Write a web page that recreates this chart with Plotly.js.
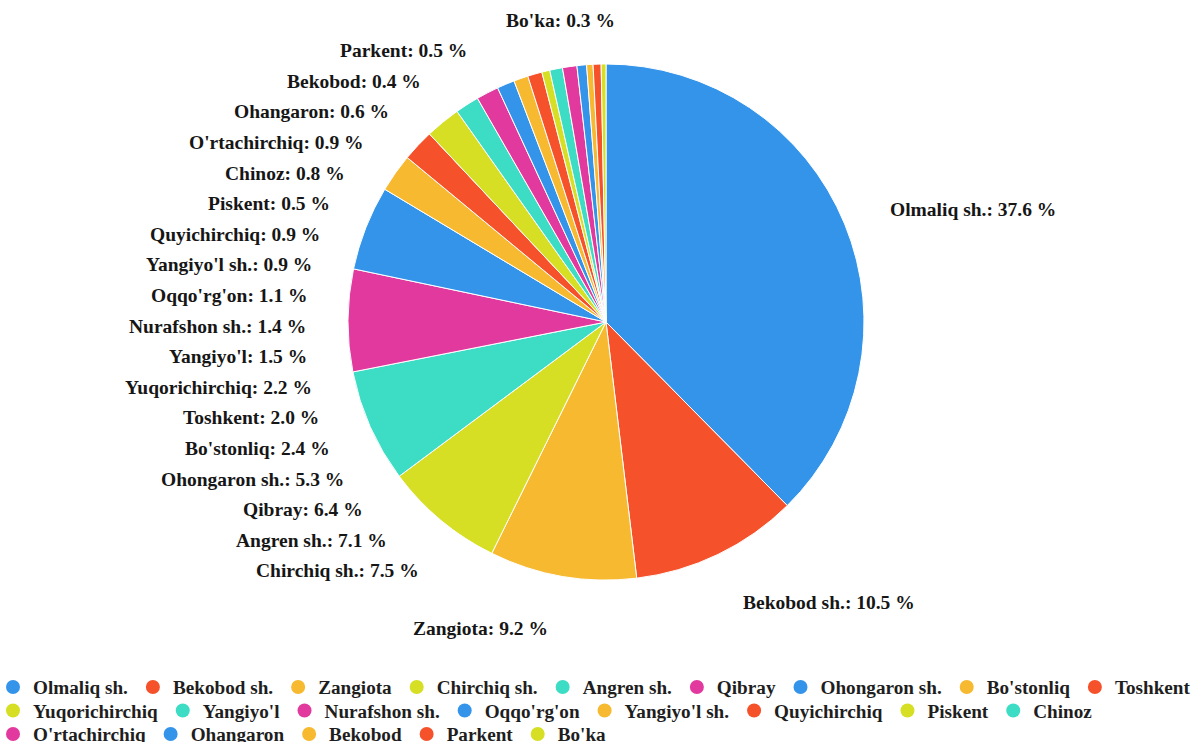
<!DOCTYPE html>
<html><head><meta charset="utf-8">
<script src="https://cdn.plot.ly/plotly-3.0.1.min.js"></script>
<style>html,body{margin:0;padding:0;background:#fff}#chart{width:1201px;height:742px}</style>
</head><body><div id="chart"></div>
<script>
// ---- data ----
const categories = ["Olmaliq sh.", "Bekobod sh.", "Zangiota", "Chirchiq sh.", "Angren sh.", "Qibray",
  "Ohongaron sh.", "Bo'stonliq", "Toshkent", "Yuqorichirchiq", "Yangiyo'l", "Nurafshon sh.",
  "Oqqo'rg'on", "Yangiyo'l sh.", "Quyichirchiq", "Piskent", "Chinoz", "O'rtachirchiq",
  "Ohangaron", "Bekobod", "Parkent", "Bo'ka"];
const shares = [37.6, 10.5, 9.2, 7.5, 7.1, 6.4, 5.3, 2.4, 2.0, 2.2, 1.5, 1.4, 1.1, 0.9, 0.9, 0.5, 0.8, 0.9, 0.6, 0.4, 0.5, 0.3];

// ---- styles ----
const BLUE = '#3394ea', RED = '#f5512b', ORANGE = '#f6b930', LIME = '#d6df24', TEAL = '#3ddcc4', PINK = '#e2399e';
const sliceColors = [BLUE, RED, ORANGE, LIME, TEAL, PINK,
  BLUE, ORANGE, RED, LIME, TEAL, PINK,
  BLUE, ORANGE, RED, LIME, TEAL, PINK,
  BLUE, ORANGE, RED, LIME];

const W = 1201, H = 742;
const CX = 606, CY = 322, R = 258;          // pie centre / radius in px
const LRX = 298, LRY = 311, LCY = CY + 5;   // label ellipse
const ROW = 30.6, TOP = 20, GAP = 6;
const FAMILY = '"Liberation Serif", "Times New Roman", serif';
const FONT = {family: FAMILY, size: 19.5, color: '#161616', weight: 'bold'};
const LEG_FONT = {family: FAMILY, size: 19.2, color: '#1e1e1e', weight: 'bold'};

// ---- label layout (derived from slice angles) ----
const total = shares.reduce((a, b) => a + b, 0);
let acc = 0;
const items = categories.map((c, i) => {
  const mid = (acc + shares[i] / 2) / total * 2 * Math.PI;
  acc += shares[i];
  const s = Math.sin(mid), co = Math.cos(mid);
  return {i, text: c + ': ' + shares[i].toFixed(1) + ' %', s, co,
          ax: CX + LRX * s, ay: CY - LRY * co};
});
const inColumn = d => d.s < 0 && -d.co < 0.9;
const column = items.filter(inColumn).sort((a, b) => a.ay - b.ay);
const others = items.filter(d => !inColumn(d));

// 1D overlap removal, then a downward sweep keeping labels below TOP
let groups = [];
column.forEach((d, k) => {
  groups.push({first: k, n: 1, top: d.ay});
  while (groups.length > 1) {
    const g2 = groups[groups.length - 1], g1 = groups[groups.length - 2];
    if (g1.top + g1.n * ROW > g2.top) {
      const n = g1.n + g2.n;
      let sum = 0;
      for (let j = 0; j < n; j++) sum += column[g1.first + j].ay - j * ROW;
      groups.splice(groups.length - 2, 2, {first: g1.first, n, top: sum / n});
    } else break;
  }
});
groups.forEach(g => { for (let j = 0; j < g.n; j++) column[g.first + j].y = g.top + j * ROW; });
column.forEach((d, k) => {
  const minY = k === 0 ? TOP : column[k - 1].y + ROW;
  if (d.y < minY) d.y = minY;
});

const annotations = [];
column.forEach(d => {
  const dy = d.y - LCY;
  const t = Math.max(0, 1 - (dy / LRY) * (dy / LRY));
  let xr = CX - LRX * Math.sqrt(t);
  if (d.y < CY - R - 20) xr = Math.max(xr, CX + 11);   // label sitting above the pie
  annotations.push({text: d.text, x: xr / W, y: 1 - d.y / H, xref: 'paper', yref: 'paper',
    xanchor: 'right', yanchor: 'middle', showarrow: false, font: FONT});
});
others.forEach(d => {
  const left = d.s >= 0;
  const y = d.co > 0 ? d.ay + 6 : d.ay;
  annotations.push({text: d.text, x: (left ? d.ax + GAP : d.ax - GAP) / W, y: 1 - y / H,
    xref: 'paper', yref: 'paper', xanchor: left ? 'left' : 'right', yanchor: 'middle',
    showarrow: false, font: FONT});
});

// ---- legend: flow layout, one legend per entry ----
const ctx = document.createElement('canvas').getContext('2d');
ctx.font = 'bold 19.2px "Liberation Serif"';
const LEG_X0 = 18, LEG_Y0 = 687, LEG_ROW = 23.5, SYM_TXT = 14, TXT_NEXT = 31;
let lx = LEG_X0, lrow = 0;
const legendPos = categories.map((c, i) => {
  const tw = ctx.measureText(c).width;
  if (i > 0 && lx + SYM_TXT + tw > W + 2) { lrow++; lx = LEG_X0; }
  const p = {cx: lx, cy: LEG_Y0 + lrow * LEG_ROW};
  lx += SYM_TXT + tw + TXT_NEXT;
  return p;
});
const legendId = i => i === 0 ? 'legend' : 'legend' + (i + 1);

// ---- traces ----
const pie = {
  type: 'pie', labels: categories, values: shares, sort: false, direction: 'clockwise', rotation: 0,
  textinfo: 'none', showlegend: false,
  marker: {colors: sliceColors, line: {color: '#ffffff', width: 1}},
  domain: {x: [(CX - R) / W, (CX + R) / W], y: [1 - (CY + R) / H, 1 - (CY - R) / H]}
};
const legendTraces = categories.map((c, i) => ({
  type: 'scatter', mode: 'markers', x: [null], y: [null], name: c, legend: legendId(i),
  marker: {color: sliceColors[i], size: 14, symbol: 'circle'}, hoverinfo: 'skip'
}));

const layout = {
  width: W, height: H, margin: {l: 0, r: 0, t: 0, b: 0, autoexpand: false},
  paper_bgcolor: '#ffffff', plot_bgcolor: '#ffffff',
  xaxis: {visible: false}, yaxis: {visible: false},
  showlegend: true,
  annotations
};
legendPos.forEach((p, i) => {
  layout[legendId(i)] = {orientation: 'h', x: (p.cx - 5 - 20) / W, xanchor: 'left',
    y: 1 - p.cy / H, yanchor: 'middle', font: LEG_FONT, bgcolor: 'rgba(0,0,0,0)',
    borderwidth: 0, itemclick: false, itemdoubleclick: false};
});
Plotly.newPlot('chart', [pie].concat(legendTraces), layout, {displayModeBar: false, staticPlot: true});
</script></body></html>
